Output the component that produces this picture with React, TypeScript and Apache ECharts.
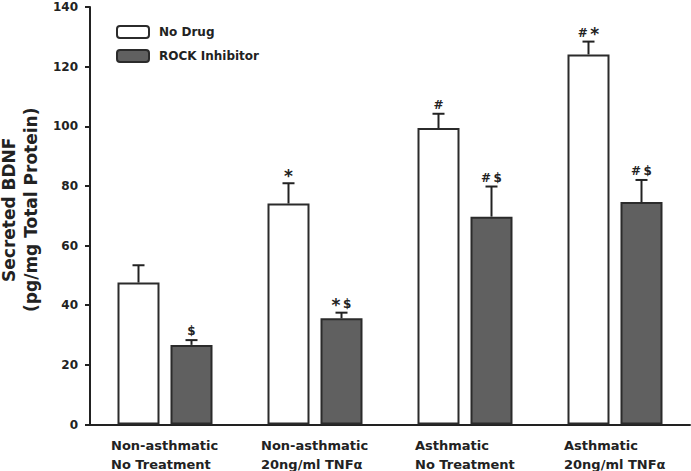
import React, { useEffect, useRef } from "react";
import * as echarts from "echarts";

const categories = [
  "Non-asthmatic\nNo Treatment",
  "Non-asthmatic\n20ng/ml TNFα",
  "Asthmatic\nNo Treatment",
  "Asthmatic\n20ng/ml TNFα",
];
const noDrug = [47.6, 74.1, 99.4, 124.1];
const noDrugErr = [5.8, 6.8, 4.8, 4.3];
const noDrugMarks = ["", "*", "#", "# *"];
const rock = [26.7, 35.6, 69.7, 74.6];
const rockErr = [1.6, 1.9, 10.1, 7.4];
const rockMarks = ["$", "* $", "# $", "# $"];
const yTicks = { min: 0, max: 140, interval: 20 };

const FONT = "DejaVu Sans";
const INK = "#222";
const BAR_W = 42;
const GAP_RATIO = 11 / 42;

function measure(text: string, size: number): number {
  const c = document.createElement("canvas");
  const ctx = c.getContext("2d");
  if (!ctx) return text.length * size * 0.6;
  ctx.font = `bold ${size}px "${FONT}"`;
  return ctx.measureText(text).width;
}

function markRich(mark: string): string {
  return mark
    .split(" ")
    .filter((s) => s.length > 0)
    .map((s) => (s === "*" ? `{s|${s}}` : `{h|${s}}`))
    .join("{g| }");
}

export default function App() {
  const ref = useRef<HTMLDivElement>(null);
  useEffect(() => {
    if (!ref.current) return;
    const chart = echarts.init(ref.current, undefined, { renderer: "svg" });
    const labelSize = 13;
    const rich: Record<string, any> = {};
    categories.forEach((c, i) => {
      const w = Math.max(...c.split("\n").map((l) => measure(l, labelSize)));
      rich["c" + i] = {
        width: Math.ceil(w),
        align: "left",
        fontSize: labelSize,
        fontWeight: "bold",
        fontFamily: FONT,
        color: INK,
        lineHeight: 19,
      };
    });
    const markStyles = {
      h: { fontSize: 12, fontWeight: "bold", fontFamily: FONT, fill: INK, color: INK, lineHeight: 14, verticalAlign: "bottom" },
      s: { fontSize: 17, fontWeight: "bold", fontFamily: FONT, fill: INK, color: INK, lineHeight: 14, verticalAlign: "bottom", padding: [0, 0, -4, 0] },
      g: { fontSize: 8, fontFamily: FONT, lineHeight: 14 },
    };
    const offset = (BAR_W * (1 + GAP_RATIO)) / 2;
    const errSeries = (vals: number[], errs: number[], marks: string[], sign: number) => ({
      type: "custom",
      z: 5,
      silent: true,
      data: vals.map((v, i) => [i, v, errs[i]]),
      encode: { x: 0, y: 1 },
      renderItem: (params: any, api: any) => {
        const i = api.value(0);
        const v = api.value(1);
        const e = api.value(2);
        const base = api.coord([i, v]);
        const top = api.coord([i, v + e]);
        const x = base[0] + sign * offset;
        const style = { stroke: INK, lineWidth: 2 };
        return {
          type: "group",
          children: [
            { type: "line", shape: { x1: x, y1: base[1], x2: x, y2: top[1] }, style },
            { type: "line", shape: { x1: x - 6, y1: top[1], x2: x + 6, y2: top[1] }, style },
            {
              type: "text",
              x: x,
              y: top[1] - 3,
              style: {
                text: markRich(marks[params.dataIndex]),
                rich: markStyles,
                align: "center",
                verticalAlign: "bottom",
                fontFamily: FONT,
                fontWeight: "bold",
                fontSize: 12,
                fill: INK,
              },
            },
          ],
        };
      },
    });
    chart.setOption({
      animation: false,
      textStyle: { fontFamily: FONT, fontWeight: "bold", color: INK },
      grid: { left: 90, right: 1, top: 7, bottom: 46.5, outerBoundsMode: "none", containLabel: false },
      legend: {
        data: ["No Drug", "ROCK Inhibitor"],
        orient: "vertical",
        left: 116,
        top: 25,
        padding: 0,
        itemWidth: 32,
        itemHeight: 12,
        itemGap: 10,
        textStyle: { fontSize: 12, fontWeight: "bold", fontFamily: FONT, color: INK, padding: [0, 0, 0, 5] },
      },
      xAxis: {
        type: "category",
        data: categories,
        axisLine: { lineStyle: { color: INK, width: 2 } },
        axisTick: { show: false },
        axisLabel: {
          interval: 0,
          margin: 11,
          formatter: (value: string, idx: number) =>
            value.split("\n").map((l) => `{c${idx}|${l}}`).join("\n"),
          rich,
        },
      },
      yAxis: {
        type: "value",
        min: yTicks.min,
        max: yTicks.max,
        interval: yTicks.interval,
        name: "Secreted BDNF\n(pg/mg Total Protein)",
        nameLocation: "middle",
        nameGap: 44,
        nameTextStyle: {
          fontSize: 17,
          fontWeight: "bold",
          fontFamily: FONT,
          color: INK,
          lineHeight: 22,
          padding: [0, 0, 0, 12],
        },
        axisLine: { show: true, lineStyle: { color: INK, width: 2 } },
        axisTick: { show: true, length: 5, lineStyle: { color: INK, width: 2 } },
        splitLine: { show: false },
        axisLabel: { margin: 12, fontSize: 12, fontWeight: "bold", fontFamily: FONT, color: INK },
      },
      series: [
        {
          name: "No Drug",
          type: "bar",
          data: noDrug,
          barWidth: BAR_W,
          barGap: `${GAP_RATIO * 100}%`,
          itemStyle: { color: "#ffffff", borderColor: "#2b2b2b", borderWidth: 2 },
        },
        {
          name: "ROCK Inhibitor",
          type: "bar",
          data: rock,
          barWidth: BAR_W,
          barGap: `${GAP_RATIO * 100}%`,
          itemStyle: { color: "#606060", borderColor: "#2b2b2b", borderWidth: 2 },
        },
        errSeries(noDrug, noDrugErr, noDrugMarks, -1),
        errSeries(rock, rockErr, rockMarks, 1),
      ],
    });
    return () => chart.dispose();
  }, []);
  return <div ref={ref} style={{ position: "absolute", left: 0, top: 0, width: 691, height: 471 }} />;
}
